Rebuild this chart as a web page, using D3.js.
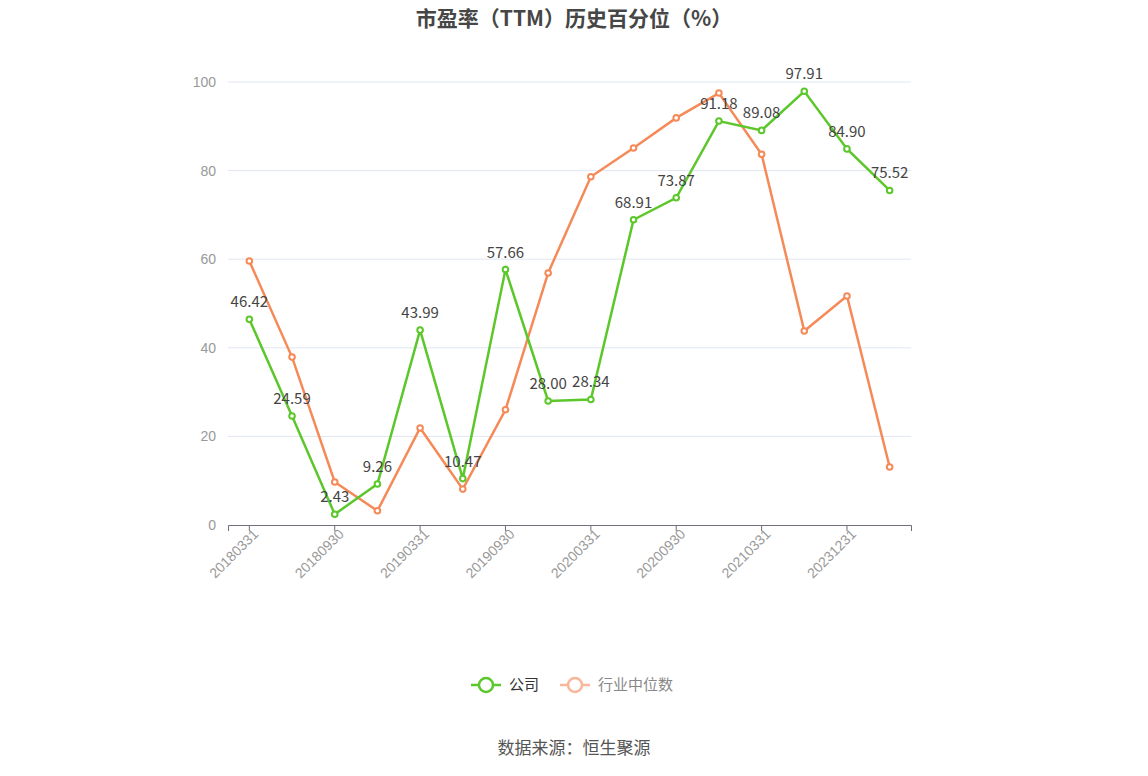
<!DOCTYPE html>
<html>
<head>
<meta charset="utf-8">
<script src="https://cdn.jsdelivr.net/npm/d3@7"></script>
<style>
  body { margin: 0; background: #fff; font-family: "Noto Sans CJK SC", "Noto Sans", sans-serif; }
</style>
</head>
<body>
<svg id="chart" width="1148" height="776"></svg>
<script>
var categories = ["20180331", "20180630", "20180930", "20181231", "20190331", "20190630", "20190930", "20191231",
                  "20200331", "20200630", "20200930", "20201231", "20210331", "20230930", "20231231", "20240331"];
var companyValues = [46.42, 24.59, 2.43, 9.26, 43.99, 10.47, 57.66, 28.00, 28.34, 68.91, 73.87, 91.18, 89.08, 97.91, 84.90, 75.52];
var industryValues = [59.6, 37.9, 9.7, 3.2, 21.9, 8.1, 26.0, 56.9, 78.6, 85.1, 91.9, 97.5, 83.7, 43.8, 51.7, 13.1];
var yTicks = [0, 20, 40, 60, 80, 100];

(function () {
    var svg = d3.select("#chart");
    var plotLeft = 228, plotRight = 911, plotTop = 82, plotBottom = 525;

    var x = d3.scaleBand().domain(categories).range([plotLeft, plotRight]);
    var y = d3.scaleLinear().domain([0, 100]).range([plotBottom, plotTop]);
    var cx = function (d, i) { return x(categories[i]) + x.bandwidth() / 2; };

    // grid
    svg.append("g").selectAll("line").data(yTicks.slice(1)).join("line")
        .attr("x1", plotLeft).attr("x2", plotRight)
        .attr("y1", function (d) { return y(d); }).attr("y2", function (d) { return y(d); })
        .attr("stroke", "#e0e6f1");

    // y axis
    var yAxis = svg.append("g").attr("transform", "translate(" + plotLeft + ",0)")
        .call(d3.axisLeft(y).tickValues(yTicks).tickSize(0).tickPadding(12));
    yAxis.select(".domain").remove();
    yAxis.selectAll("text").attr("fill", "#999").attr("font-size", 14);

    // x axis
    var xAxis = svg.append("g").attr("transform", "translate(0," + plotBottom + ")")
        .call(d3.axisBottom(x).tickValues(categories.filter(function (d, i) { return i % 2 === 0; })).tickSize(6));
    xAxis.select(".domain").attr("stroke", "#6e7079");
    xAxis.selectAll("line").attr("stroke", "#6e7079");
    xAxis.selectAll("text").attr("fill", "#999").attr("font-size", 14)
        .attr("text-anchor", "end").attr("x", 0).attr("y", 10).attr("dy", "0.3em")
        .attr("transform", "rotate(-45)");

    var line = d3.line().x(cx).y(function (d) { return y(d); });

    function drawSeries(values, color) {
        svg.append("path").datum(values).attr("d", line)
            .attr("fill", "none").attr("stroke", color).attr("stroke-width", 2.5);
        svg.append("g").selectAll("circle").data(values).join("circle")
            .attr("cx", cx).attr("cy", function (d) { return y(d); }).attr("r", 2.8)
            .attr("fill", "#fff").attr("stroke", color).attr("stroke-width", 2);
    }
    drawSeries(industryValues, "#f58a58");
    drawSeries(companyValues, "#5cc72a");

    // value labels
    svg.append("g").selectAll("text").data(companyValues).join("text")
        .attr("x", cx).attr("y", function (d) { return y(d) - 12; })
        .attr("text-anchor", "middle").attr("font-size", 15).attr("fill", "#444")
        .text(function (d) { return d.toFixed(2); });

    // title
    svg.append("text").attr("x", 574).attr("y", 26).attr("text-anchor", "middle")
        .attr("font-size", 21).attr("font-weight", "bold").attr("fill", "#464646")
        .text("市盈率（TTM）历史百分位（%）");

    // legend
    var legend = [{name: "公司", color: "#5cc72a", text: "#333"}, {name: "行业中位数", color: "#f9b69a", text: "#888"}];
    var lx = [471, 560];
    legend.forEach(function (d, i) {
        var g = svg.append("g").attr("transform", "translate(" + lx[i] + ",685)");
        g.append("line").attr("x1", 0).attr("x2", 30).attr("stroke", d.color).attr("stroke-width", 2.5);
        g.append("circle").attr("cx", 15).attr("r", 7).attr("fill", "#fff").attr("stroke", d.color).attr("stroke-width", 2.5);
        g.append("text").attr("x", 38).attr("dy", "0.35em").attr("font-size", 15).attr("fill", d.text).text(d.name);
    });

    // source
    svg.append("text").attr("x", 574).attr("y", 754).attr("text-anchor", "middle")
        .attr("font-size", 17).attr("fill", "#555").text("数据来源：恒生聚源");
}());
</script>
</body>
</html>
